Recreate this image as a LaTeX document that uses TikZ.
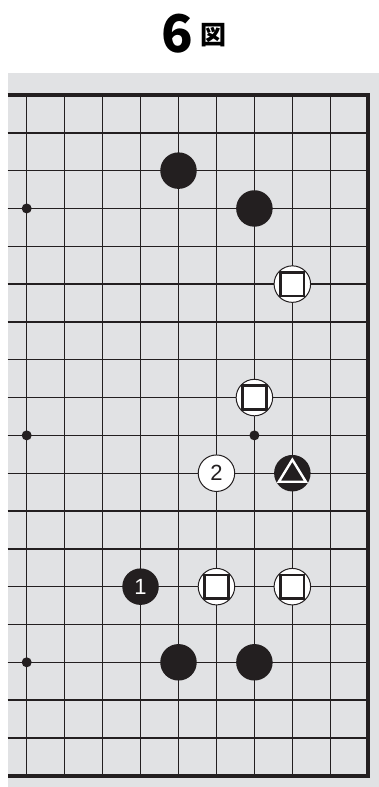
\documentclass[tikz,border=0pt]{standalone}
\usepackage{fontspec}
\newfontfamily\cjk{Noto Sans CJK JP}
\newfontfamily\numfont{Liberation Sans}
\usepackage{tikz}
\usetikzlibrary{positioning}
\definecolor{ink}{HTML}{231F20}
\definecolor{board}{HTML}{E1E2E4}
\tikzset{%
  gridline/.style={draw=ink,line width=1.4bp},
  edgeline/.style={draw=ink,line width=4bp,line join=miter},
  stone/.style={circle,minimum size=36.5bp,inner sep=0pt,font=\numfont\fontsize{22bp}{22bp}\selectfont},
  blackstone/.style={stone,fill=ink,text=white},
  whitestone/.style={stone,fill=white,draw=ink,line width=1bp,text=ink},
  hoshi/.style={circle,fill=ink,minimum size=10bp,inner sep=0pt},
  sqmark/.style={path picture={\draw[ink,line width=2.6bp,line join=miter] (-11.8bp,-11.8bp) rectangle (11.8bp,11.8bp);}},
  trimark/.style={path picture={\draw[white,line width=2.4bp,line join=miter] (0,13.5bp) -- (-13.5bp,-8.5bp) -- (13.5bp,-8.5bp) -- cycle;}}%
}
\begin{document}
\begin{tikzpicture}[x=37.95bp,y=-37.82bp]
\useasboundingbox (-26.7bp,95bp) rectangle (352.3bp,-692bp);

% Title
\node[anchor=base,inner sep=0pt,font=\cjk\bfseries\fontsize{52bp}{52bp}\selectfont] (six) at (150.8bp,42bp) {6};
\node[right=7bp of six,yshift=-1bp,inner sep=0pt,font=\cjk\bfseries\fontsize{26bp}{26bp}\selectfont] (zu) {図};

% Board
\fill[board] (-18.7bp,21.5bp) rectangle (352.3bp,-692bp);
\foreach \c in {0,...,8}
  \draw[gridline] (\c,0) -- (\c,18);
\foreach \r in {1,...,17}
  \draw[gridline] (-0.5,\r) -- (9,\r);
\draw[edgeline] (-0.5,0) -- (9,0) -- (9,18) -- (-0.5,18);

% Star points
\node[hoshi] (s1) at (0,3) {};
\node[hoshi] (s2) at (0,9) {};
\node[hoshi] (s3) at (0,15) {};
\node[hoshi] (s4) at (6,9) {};

% Black stones
\node[blackstone] (ba) at (4,2) {};
\node[blackstone] (bb) at (6,3) {};
\node[blackstone,trimark] (btri) at (7,10) {};
\node[blackstone] (move1) at (3,13) {1};
\node[blackstone] (bc) at (4,15) {};
\node[blackstone] (bd) at (6,15) {};

% White stones
\node[whitestone,sqmark] (wa) at (7,5) {};
\node[whitestone,sqmark] (wb) at (6,8) {};
\node[whitestone] (move2) at (5,10) {2};
\node[whitestone,sqmark] (wc) at (5,13) {};
\node[whitestone,sqmark] (wd) at (7,13) {};

\end{tikzpicture}
\end{document}
